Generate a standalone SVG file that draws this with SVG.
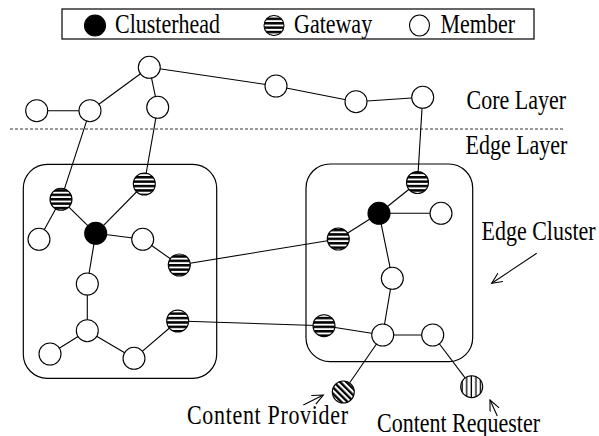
<svg xmlns="http://www.w3.org/2000/svg" width="599" height="436" viewBox="0 0 599 436">
<style>
text{font-family:"Liberation Serif","Times New Roman",serif;font-size:22px;fill:#000}
.n{stroke:#000;stroke-width:1.1}
.m{fill:#fff}
.h{fill:#000}
.g{fill:url(#hs)}
.e line{stroke:#000;stroke-width:1.1}
.box{fill:none;stroke:#000;stroke-width:1.2}
</style>
<defs>
<pattern id="hs" patternUnits="userSpaceOnUse" width="8" height="4.4">
<rect width="8" height="4.4" fill="#fff"/>
<rect y="0" width="8" height="2.5" fill="#000"/>
</pattern>
<pattern id="ds" patternUnits="userSpaceOnUse" width="4.4" height="4.4" patternTransform="rotate(-45)">
<rect width="4.4" height="4.4" fill="#fff"/>
<rect width="2.3" height="4.4" fill="#000"/>
</pattern>
<pattern id="vs" patternUnits="userSpaceOnUse" width="4.6" height="8">
<rect width="4.6" height="8" fill="#fff"/>
<rect x="1.5" width="1.3" height="8" fill="#000"/>
</pattern>
<marker id="ah" markerUnits="userSpaceOnUse" markerWidth="14" markerHeight="12" refX="11" refY="5" orient="auto">
<path d="M0,0 L11,5 L0,10" fill="none" stroke="#000" stroke-width="1.1"/>
</marker>
</defs>

<g id="legend">
<rect x="62" y="9" width="472" height="30" fill="#fff" stroke="#000" stroke-width="1.2"/>
<ellipse cx="95" cy="25.5" rx="10.5" ry="10.5" class="n h"/>
<text transform="translate(115,33) scale(1,1.2)">Clusterhead</text>
<ellipse cx="274" cy="25.5" rx="10" ry="10" class="n g"/>
<text transform="translate(294,33) scale(1,1.2)">Gateway</text>
<ellipse cx="419.5" cy="25.5" rx="10" ry="10.5" class="n m"/>
<text transform="translate(440.5,33) scale(1,1.2)">Member</text>
</g>

<g id="layers">
<line x1="10" y1="129" x2="563" y2="129" stroke="#333" stroke-width="1" stroke-dasharray="3,2"/>
<text transform="translate(466.5,108.5) scale(1,1.2)">Core Layer</text>
<text transform="translate(465.5,154) scale(1,1.2)">Edge Layer</text>
</g>

<g id="cluster-left"><rect x="23.3" y="164.3" width="193.4" height="214" rx="24" ry="24" class="box"/></g>
<g id="cluster-right"><rect x="306" y="164" width="166.7" height="197.7" rx="24" ry="24" class="box"/></g>

<g id="connectors" class="e">
<line x1="36.7" y1="110.7" x2="90" y2="110.7"/>
<line x1="90" y1="110.7" x2="149.3" y2="67.3"/>
<line x1="149.3" y1="67.3" x2="157.7" y2="107.3"/>
<line x1="149.3" y1="67.3" x2="276" y2="86"/>
<line x1="276" y1="86" x2="356" y2="101.7"/>
<line x1="356" y1="101.7" x2="422.7" y2="97.3"/>
<line x1="90" y1="110.7" x2="61" y2="199.3"/>
<line x1="157.7" y1="107.3" x2="144.3" y2="184"/>
<line x1="422.7" y1="97.3" x2="417.5" y2="182.5"/>
<line x1="61" y1="199.3" x2="39" y2="239.3"/>
<line x1="61" y1="199.3" x2="95.7" y2="233.3"/>
<line x1="95.7" y1="233.3" x2="144.3" y2="184"/>
<line x1="95.7" y1="233.3" x2="142.7" y2="239.3"/>
<line x1="142.7" y1="239.3" x2="179.3" y2="265"/>
<line x1="95.7" y1="233.3" x2="87.3" y2="284"/>
<line x1="87.3" y1="284" x2="87.3" y2="330.7"/>
<line x1="87.3" y1="330.7" x2="50" y2="354"/>
<line x1="87.3" y1="330.7" x2="134" y2="358.3"/>
<line x1="134" y1="358.3" x2="177.7" y2="321"/>
<line x1="179.3" y1="265" x2="338.3" y2="239"/>
<line x1="177.7" y1="321" x2="324" y2="325.7"/>
<line x1="417.5" y1="182.5" x2="379" y2="213.3"/>
<line x1="379" y1="213.3" x2="441" y2="213.3"/>
<line x1="379" y1="213.3" x2="338.3" y2="239"/>
<line x1="379" y1="213.3" x2="392.3" y2="278.3"/>
<line x1="392.3" y1="278.3" x2="382.7" y2="335"/>
<line x1="324" y1="325.7" x2="382.7" y2="335"/>
<line x1="382.7" y1="335" x2="432.7" y2="335"/>
<line x1="382.7" y1="335" x2="343.3" y2="392"/>
<line x1="432.7" y1="335" x2="471.7" y2="386.7"/>
<line x1="536.7" y1="253.3" x2="491.7" y2="283.3" marker-end="url(#ah)"/>
<line x1="303.3" y1="405" x2="323.3" y2="395" marker-end="url(#ah)"/>
<line x1="497.3" y1="416" x2="490" y2="400" marker-end="url(#ah)"/>
</g>

<g id="core-1"><circle cx="149.3" cy="67.3" r="11" class="n m"/></g>
<g id="core-2"><circle cx="36.7" cy="110.7" r="11" class="n m"/></g>
<g id="core-3"><circle cx="90" cy="110.7" r="11" class="n m"/></g>
<g id="core-4"><circle cx="157.7" cy="107.3" r="11" class="n m"/></g>
<g id="core-5"><circle cx="276" cy="86" r="11" class="n m"/></g>
<g id="core-6"><circle cx="356" cy="101.7" r="11" class="n m"/></g>
<g id="core-7"><circle cx="422.7" cy="97.3" r="11" class="n m"/></g>

<g id="l-gw1"><circle cx="61" cy="199.3" r="11" class="n g"/></g>
<g id="l-gw2"><circle cx="144.3" cy="184" r="11" class="n g"/></g>
<g id="l-m1"><circle cx="39" cy="239.3" r="11" class="n m"/></g>
<g id="l-ch"><circle cx="95.7" cy="233.3" r="11" class="n h"/></g>
<g id="l-m2"><circle cx="142.7" cy="239.3" r="11" class="n m"/></g>
<g id="l-gw3"><circle cx="179.3" cy="265" r="11" class="n g"/></g>
<g id="l-m3"><circle cx="87.3" cy="284" r="11" class="n m"/></g>
<g id="l-m4"><circle cx="87.3" cy="330.7" r="11" class="n m"/></g>
<g id="l-m5"><circle cx="50" cy="354" r="11" class="n m"/></g>
<g id="l-m6"><circle cx="134" cy="358.3" r="11" class="n m"/></g>
<g id="l-gw4"><circle cx="177.7" cy="321" r="11" class="n g"/></g>

<g id="r-gw1"><circle cx="417.5" cy="182.5" r="11" class="n g"/></g>
<g id="r-ch"><circle cx="379" cy="213.3" r="11" class="n h"/></g>
<g id="r-m1"><circle cx="441" cy="213.3" r="11" class="n m"/></g>
<g id="r-gw2"><circle cx="338.3" cy="239" r="11" class="n g"/></g>
<g id="r-m2"><circle cx="392.3" cy="278.3" r="11" class="n m"/></g>
<g id="r-gw3"><circle cx="324" cy="325.7" r="11" class="n g"/></g>
<g id="r-m3"><circle cx="382.7" cy="335" r="11" class="n m"/></g>
<g id="r-m4"><circle cx="432.7" cy="335" r="11" class="n m"/></g>

<g id="provider"><circle cx="343.3" cy="392" r="11" class="n" fill="url(#ds)"/></g>
<g id="requester"><circle cx="471.7" cy="386.7" r="11" class="n" fill="url(#vs)"/></g>

<g id="labels">
<text transform="translate(481.5,240) scale(1,1.2)">Edge Cluster</text>
<text transform="translate(187,424) scale(1,1.2)" textLength="161">Content Provider</text>
<text transform="translate(377,431.5) scale(1,1.2)">Content Requester</text>
</g>
</svg>
